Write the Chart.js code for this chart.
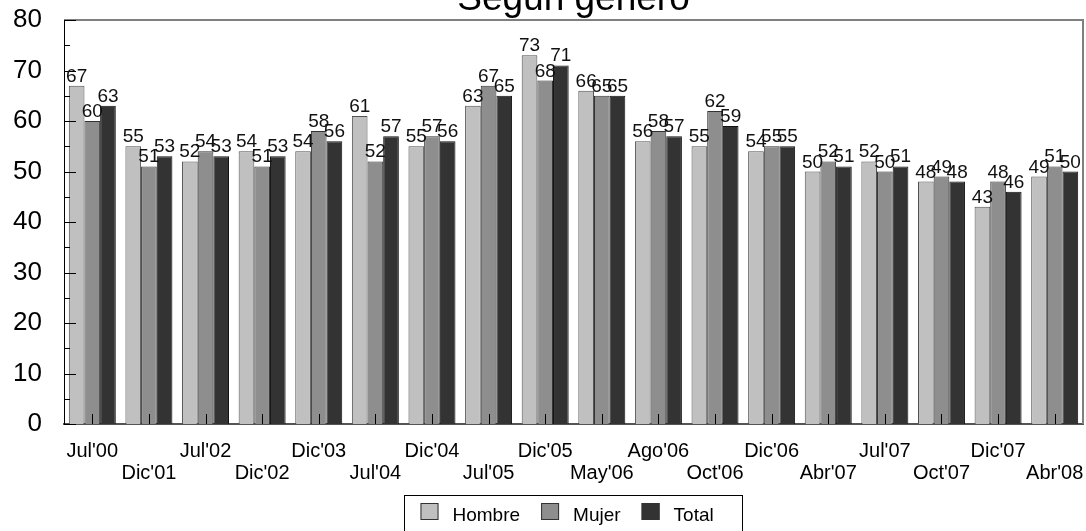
<!DOCTYPE html>
<html>
<head>
<meta charset="utf-8">
<script src="https://cdn.jsdelivr.net/npm/chart.js@4.4.1/dist/chart.umd.min.js"></script>
<style>
    body { margin: 0; background: #fff; }
    #wrap { width: 1086px; height: 531px; position: relative; }
</style>
</head>
<body>
<div id="wrap"><canvas id="generoChart"></canvas></div>
<script>
const categories = ["Jul'00", "Dic'01", "Jul'02", "Dic'02", "Dic'03", "Jul'04", "Dic'04", "Jul'05", "Dic'05",
    "May'06", "Ago'06", "Oct'06", "Dic'06", "Abr'07", "Jul'07", "Oct'07", "Dic'07", "Abr'08"];
const hombre = [67, 55, 52, 54, 54, 61, 55, 63, 73, 66, 56, 55, 54, 50, 52, 48, 43, 49];
const mujer  = [60, 51, 54, 51, 58, 52, 57, 67, 68, 65, 58, 62, 55, 52, 50, 49, 48, 51];
const total  = [63, 53, 53, 53, 56, 57, 56, 65, 71, 65, 57, 59, 55, 51, 51, 48, 46, 50];
const yTicks = [0, 10, 20, 30, 40, 50, 60, 70, 80];

const FONT = "'Liberation Sans', Arial, sans-serif";

// Title, value labels, inward tick marks, frame and boxed legend
const extrasPlugin = {
    id: 'extras',
    afterDatasetsDraw(chart) {
        const ctx = chart.ctx;
        const area = chart.chartArea;
        const x = chart.scales.x;
        const y = chart.scales.y;
        ctx.save();

        // frame top/right
        ctx.strokeStyle = '#808080';
        ctx.lineWidth = 2;
        ctx.beginPath();
        ctx.moveTo(area.left, area.top);
        ctx.lineTo(area.right, area.top);
        ctx.lineTo(area.right, area.bottom);
        ctx.stroke();

        // y ticks (major + minor), pointing inward
        ctx.strokeStyle = '#000';
        ctx.lineWidth = 1;
        for (let v = 0; v <= 80; v += 5) {
            const py = Math.round(y.getPixelForValue(v)) + 0.5;
            const len = v % 10 === 0 ? 12 : 6;
            ctx.beginPath();
            ctx.moveTo(area.left, py);
            ctx.lineTo(area.left + len, py);
            ctx.stroke();
        }
        // x ticks at category centres
        categories.forEach((c, i) => {
            const px = Math.round(x.getPixelForValue(i)) + 0.5;
            ctx.beginPath();
            ctx.moveTo(px, area.bottom);
            ctx.lineTo(px, area.bottom - 10);
            ctx.stroke();
        });

        // value labels
        ctx.fillStyle = '#111';
        ctx.font = '19px ' + FONT;
        ctx.textAlign = 'center';
        ctx.textBaseline = 'alphabetic';
        chart.data.datasets.forEach((ds, di) => {
            chart.getDatasetMeta(di).data.forEach((bar, i) => {
                ctx.fillText(ds.data[i], bar.x, bar.y - 4);
            });
        });

        // title (cut at the top like the original)
        ctx.font = '37px ' + FONT;
        ctx.fillStyle = '#000';
        ctx.fillText('Según género', (area.left + area.right) / 2, 10);

        // legend box
        ctx.font = '19px ' + FONT;
        ctx.textAlign = 'left';
        const boxW = 338, top = 495;
        const boxX = Math.round((area.left + area.right) / 2 - boxW / 2) - 0.5;
        ctx.strokeStyle = '#000';
        ctx.strokeRect(boxX, top + 0.5, boxW, 60);
        let lx = boxX + 16;
        chart.data.datasets.forEach(ds => {
            ctx.fillStyle = ds.backgroundColor;
            ctx.fillRect(lx, 503, 18, 17);
            ctx.strokeStyle = '#333';
            ctx.strokeRect(lx + 0.5, 503.5, 17, 16);
            ctx.fillStyle = '#000';
            ctx.fillText(ds.label, lx + 32, 521);
            lx += 32 + ctx.measureText(ds.label).width + 21;
        });
        ctx.restore();
    }
};

const ctx = document.getElementById('generoChart').getContext('2d');
new Chart(ctx, {
    type: 'bar',
    data: {
        labels: categories,
        datasets: [
            { label: 'Hombre', data: hombre, backgroundColor: '#c0c0c0', borderColor: '#505050' },
            { label: 'Mujer', data: mujer, backgroundColor: '#8e8e8e', borderColor: '#333333' },
            { label: 'Total', data: total, backgroundColor: '#333333', borderColor: '#111111' }
        ]
    },
    options: {
        responsive: true,
        maintainAspectRatio: false,
        animation: false,
        devicePixelRatio: 1,
        layout: { padding: { top: 20, right: 3, bottom: 0, left: 0 } },
        datasets: {
            bar: { borderWidth: 1, categoryPercentage: 0.83, barPercentage: 1.0 }
        },
        plugins: {
            legend: { display: false },
            title: { display: false },
            tooltip: { enabled: false }
        },
        scales: {
            x: {
                grid: { display: false, drawTicks: false },
                border: { display: true, color: '#555', width: 2 },
                afterFit(scale) {
                    scale.height = 107;
                    scale.paddingLeft = 0;
                    scale.paddingRight = 0;
                },
                ticks: {
                    autoSkip: false,
                    maxRotation: 0,
                    padding: 16,
                    color: '#000',
                    font: { family: FONT, size: 20, lineHeight: 1.1 },
                    callback: (val, i) => i % 2 === 1 ? ['', categories[i]] : categories[i]
                }
            },
            y: {
                min: 0,
                max: 80,
                afterFit(scale) {
                    scale.width = 64;
                    scale.paddingTop = 0;
                    scale.paddingBottom = 0;
                },
                afterBuildTicks(scale) { scale.ticks = yTicks.map(v => ({ value: v })); },
                grid: { display: false, drawTicks: false },
                border: { display: true, color: '#000', width: 1 },
                ticks: {
                    padding: 22,
                    color: '#000',
                    font: { family: FONT, size: 26 }
                }
            }
        }
    },
    plugins: [extrasPlugin]
});
</script>
</body>
</html>
